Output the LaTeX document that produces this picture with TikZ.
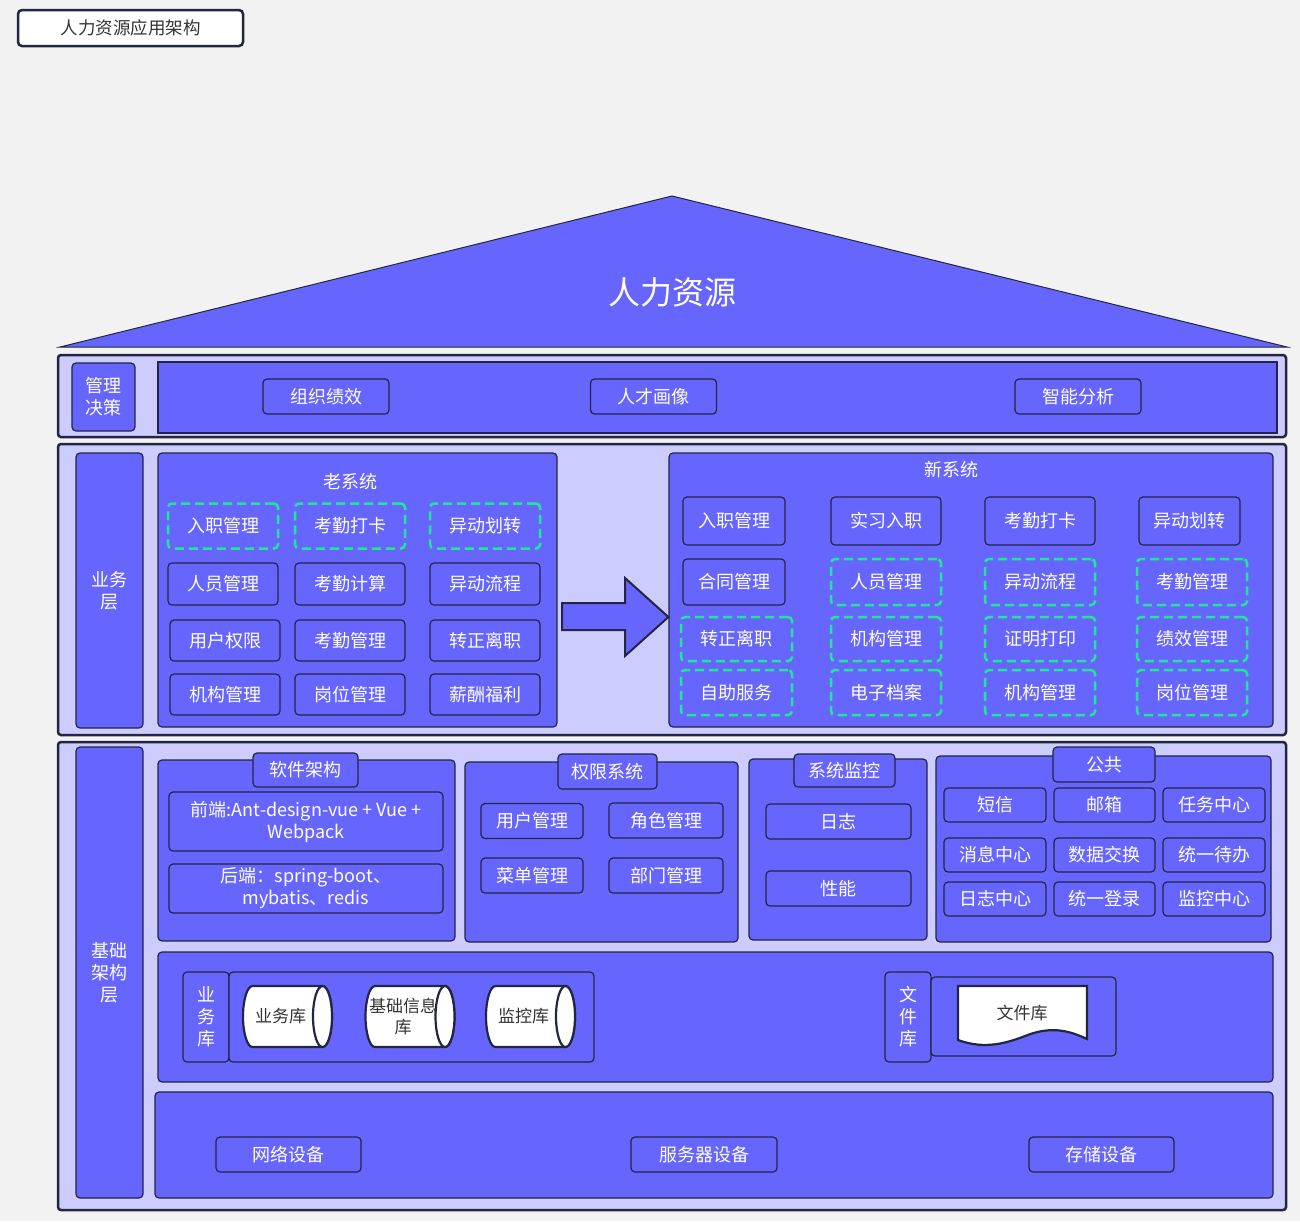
\documentclass[tikz,border=0pt]{standalone}
\usepackage{fontspec}
\setmainfont{Noto Sans CJK SC}
\definecolor{hrblue}{RGB}{102,102,255}
\definecolor{hrlav}{RGB}{204,204,255}
\definecolor{hredge}{RGB}{34,38,64}
\definecolor{hrgreen}{RGB}{32,230,150}
\definecolor{hrpaper}{RGB}{242,242,242}
\definecolor{hrtext}{RGB}{51,51,51}
% horizontal database drum: name, centre x, centre y, text
\newcommand{\dbdrum}[4]{%
  \begin{scope}[shift={(#2,#3)}]
    \draw[drumline] (35,-30.5) -- (-35,-30.5) arc[start angle=270,end angle=90,x radius=9.5,y radius=30.5]
      -- (35,30.5) arc[start angle=90,end angle=-90,x radius=9.5,y radius=30.5] -- cycle;
    \draw[drumline] (35,0) ellipse[x radius=9.5,y radius=30.5];
    \node[drumtext] (#1) at (-7,0) {#4};
  \end{scope}}

\begin{document}
\begin{tikzpicture}[x=1pt,y=-1pt,
  layerframe/.style={draw=hredge,line width=2.5pt,fill=hrlav,rounded corners=3pt,inner sep=0pt},
  modbox/.style={draw=hredge,line width=1.2pt,fill=hrblue,rounded corners=4pt,inner sep=0pt,
    text=white,align=center,font=\fontsize{18}{22}\selectfont},
  plainbox/.style={modbox,rounded corners=0pt},
  oldbox/.style={modbox,draw=hrgreen,line width=2.5pt,dash pattern=on 9pt off 5pt},
  sidelabel/.style={modbox,font=\fontsize{18}{22}\selectfont},
  caption/.style={text=white,font=\fontsize{18}{22}\selectfont},
  drumline/.style={draw=hredge,line width=2.2pt,fill=white},
  drumtext/.style={inner sep=0pt,text=hrtext,align=center,font=\fontsize{17}{21}\selectfont}]
  \fill[hrpaper] (0,0) rectangle (1300,1221);
  \useasboundingbox (0,0) rectangle (1300,1221);

  % heading
  \node[draw=hredge,line width=2.5pt,fill=white,rounded corners=4pt,minimum width=225pt,minimum height=36pt,
    text=hrtext,font=\fontsize{17.5}{21}\selectfont] (heading) at (130.5,28) {人力资源应用架构};

  % roof
  \draw[draw=hredge,line width=1pt,fill=hrblue] (60,347) -- (672,196) -- (1287,347) -- cycle;
  \node[text=white,font=\fontsize{32}{38}\selectfont] (roof) at (672,292) {人力资源};

  % management layer
  \node[layerframe,minimum width=1228pt,minimum height=82pt] (mgmt) at (672,396) {};
  \node[sidelabel,minimum width=63pt,minimum height=68pt] (mgmtlabel) at (103.5,397) {管理\\决策};
  \node[plainbox,minimum width=1119pt,minimum height=71pt] (mgmtbody) at (717.5,397.5) {};
  \node[modbox,minimum width=126pt,minimum height=35pt] (perf) at (326,396.5) {组织绩效};
  \node[modbox,minimum width=126pt,minimum height=35pt] (talent) at (653.5,396.5) {人才画像};
  \node[modbox,minimum width=126pt,minimum height=35pt] (smart) at (1078,396.5) {智能分析};

  % business layer
  \node[layerframe,minimum width=1228pt,minimum height=291pt] (biz) at (672,589.5) {};
  \node[sidelabel,minimum width=67pt,minimum height=275pt] (bizlabel) at (109.5,590.5) {业务\\层};
  \node[modbox,minimum width=399pt,minimum height=274pt] (oldsys) at (357.5,590) {};
  \node[caption] (oldtitle) at (350,482) {老系统};
  \node[oldbox,minimum width=110pt,minimum height=45pt] (o11) at (223,526) {入职管理};
  \node[oldbox,minimum width=110pt,minimum height=45pt] (o12) at (350,526) {考勤打卡};
  \node[oldbox,minimum width=110pt,minimum height=45pt] (o13) at (485,526) {异动划转};
  \node[modbox,minimum width=110pt,minimum height=42pt] (o21) at (223,584) {人员管理};
  \node[modbox,minimum width=110pt,minimum height=42pt] (o22) at (350,584) {考勤计算};
  \node[modbox,minimum width=110pt,minimum height=42pt] (o23) at (485,584) {异动流程};
  \node[modbox,minimum width=110pt,minimum height=41pt] (o31) at (225,640.5) {用户权限};
  \node[modbox,minimum width=110pt,minimum height=41pt] (o32) at (350,640.5) {考勤管理};
  \node[modbox,minimum width=110pt,minimum height=41pt] (o33) at (485,640.5) {转正离职};
  \node[modbox,minimum width=110pt,minimum height=41pt] (o41) at (225,694.5) {机构管理};
  \node[modbox,minimum width=110pt,minimum height=41pt] (o42) at (350,694.5) {岗位管理};
  \node[modbox,minimum width=110pt,minimum height=41pt] (o43) at (485,694.5) {薪酬福利};

  \node[modbox,minimum width=604pt,minimum height=274pt] (newsys) at (971,590) {};
  \draw[draw=hredge,line width=2pt,fill=hrblue]
    (562,603) -- (625,603) -- (625,578) -- (newsys.west |- 0,617) -- (625,656) -- (625,630) -- (562,630) -- cycle;
  \node[caption] (newtitle) at (951,470) {新系统};
  \node[modbox,minimum width=102pt,minimum height=48pt] (n11) at (734,521) {入职管理};
  \node[modbox,minimum width=110pt,minimum height=48pt] (n12) at (886,521) {实习入职};
  \node[modbox,minimum width=110pt,minimum height=48pt] (n13) at (1040,521) {考勤打卡};
  \node[modbox,minimum width=101pt,minimum height=48pt] (n14) at (1189.5,521) {异动划转};
  \node[modbox,minimum width=102pt,minimum height=46pt] (n21) at (734,582) {合同管理};
  \node[oldbox,minimum width=110pt,minimum height=46pt] (n22) at (886,582) {人员管理};
  \node[oldbox,minimum width=110pt,minimum height=46pt] (n23) at (1040,582) {异动流程};
  \node[oldbox,minimum width=110pt,minimum height=46pt] (n24) at (1192,582) {考勤管理};
  \node[oldbox,minimum width=111pt,minimum height=44pt] (n31) at (736.5,639) {转正离职};
  \node[oldbox,minimum width=110pt,minimum height=44pt] (n32) at (886,639) {机构管理};
  \node[oldbox,minimum width=110pt,minimum height=44pt] (n33) at (1040,639) {证明打印};
  \node[oldbox,minimum width=110pt,minimum height=44pt] (n34) at (1192,639) {绩效管理};
  \node[oldbox,minimum width=111pt,minimum height=45pt] (n41) at (736.5,692.5) {自助服务};
  \node[oldbox,minimum width=110pt,minimum height=45pt] (n42) at (886,692.5) {电子档案};
  \node[oldbox,minimum width=110pt,minimum height=45pt] (n43) at (1040,692.5) {机构管理};
  \node[oldbox,minimum width=110pt,minimum height=45pt] (n44) at (1192,692.5) {岗位管理};

  % base layer
  \node[layerframe,minimum width=1228pt,minimum height=468pt] (base) at (672,976) {};
  \node[sidelabel,minimum width=67pt,minimum height=451pt] (baselabel) at (109.5,972.5) {基础\\架构\\层};

  \node[modbox,minimum width=297pt,minimum height=181pt] (soft) at (306.5,850.5) {};
  \node[modbox,minimum width=105pt,minimum height=34pt] (softtab) at (305.5,770) {软件架构};
  \node[modbox,minimum width=274pt,minimum height=59pt] (front) at (306,821.5) {前端:Ant-design-vue + Vue +\\Webpack};
  \node[modbox,minimum width=274pt,minimum height=49pt] (back) at (306,888.5) {后端：spring-boot、\\mybatis、redis};

  \node[modbox,minimum width=273pt,minimum height=180pt] (perm) at (601.5,852) {};
  \node[modbox,minimum width=99pt,minimum height=35pt] (permtab) at (607.5,771.5) {权限系统};
  \node[modbox,minimum width=102pt,minimum height=35pt] (puser) at (532,821) {用户管理};
  \node[modbox,minimum width=114pt,minimum height=35pt] (prole) at (666,820.5) {角色管理};
  \node[modbox,minimum width=102pt,minimum height=35pt] (pmenu) at (532,875.5) {菜单管理};
  \node[modbox,minimum width=114pt,minimum height=35pt] (pdept) at (666,875.5) {部门管理};

  \node[modbox,minimum width=178pt,minimum height=181pt] (mon) at (838,849.5) {};
  \node[modbox,minimum width=101pt,minimum height=33pt] (montab) at (844.5,770.5) {系统监控};
  \node[modbox,minimum width=145pt,minimum height=35pt] (mlog) at (838.5,821.5) {日志};
  \node[modbox,minimum width=145pt,minimum height=35pt] (mperf) at (838.5,888.5) {性能};

  \node[modbox,minimum width=335pt,minimum height=186pt] (pub) at (1103.5,849) {};
  \node[modbox,minimum width=102pt,minimum height=35pt] (pubtab) at (1104,764.5) {公共};
  \node[modbox,minimum width=102pt,minimum height=34pt] (c11) at (995,805) {短信};
  \node[modbox,minimum width=101pt,minimum height=34pt] (c12) at (1104.5,805) {邮箱};
  \node[modbox,minimum width=102pt,minimum height=34pt] (c13) at (1214,805) {任务中心};
  \node[modbox,minimum width=102pt,minimum height=34pt] (c21) at (995,855) {消息中心};
  \node[modbox,minimum width=101pt,minimum height=34pt] (c22) at (1104.5,855) {数据交换};
  \node[modbox,minimum width=102pt,minimum height=34pt] (c23) at (1214,855) {统一待办};
  \node[modbox,minimum width=102pt,minimum height=34pt] (c31) at (995,899) {日志中心};
  \node[modbox,minimum width=101pt,minimum height=34pt] (c32) at (1104.5,899) {统一登录};
  \node[modbox,minimum width=102pt,minimum height=34pt] (c33) at (1214,899) {监控中心};

  % storage
  \node[modbox,minimum width=1115pt,minimum height=130pt] (store) at (715.5,1017) {};
  \node[modbox,minimum width=46pt,minimum height=90pt] (dblabel) at (206,1017) {业\\务\\库};
  \node[modbox,minimum width=365pt,minimum height=90pt] (dbbox) at (411.5,1017) {};
  \dbdrum{bizdb}{287.5}{1016.5}{业务库}
  \dbdrum{infodb}{410}{1016.5}{基础信息\\库}
  \dbdrum{mondb}{530.5}{1016.5}{监控库}
  \node[modbox,minimum width=46pt,minimum height=90pt] (filelabel) at (908,1017) {文\\件\\库};
  \node[modbox,minimum width=185pt,minimum height=79pt] (filebox) at (1023.5,1016.5) {};
  \draw[drumline]
    (958,986) -- (1087,986) -- (1087,1039)
    .. controls (1068,1030) and (1050,1026) .. (1025,1036)
    .. controls (1000,1046) and (980,1048) .. (958,1040) -- cycle;
  \node[drumtext] (filedoc) at (1022,1013) {文件库};

  % network
  \node[modbox,minimum width=1118pt,minimum height=106pt] (net) at (714,1145) {};
  \node[modbox,minimum width=145pt,minimum height=35pt] (netdev) at (288.5,1154.5) {网络设备};
  \node[modbox,minimum width=146pt,minimum height=35pt] (srvdev) at (704,1154.5) {服务器设备};
  \node[modbox,minimum width=145pt,minimum height=35pt] (stodev) at (1101.5,1154.5) {存储设备};
\end{tikzpicture}
\end{document}
